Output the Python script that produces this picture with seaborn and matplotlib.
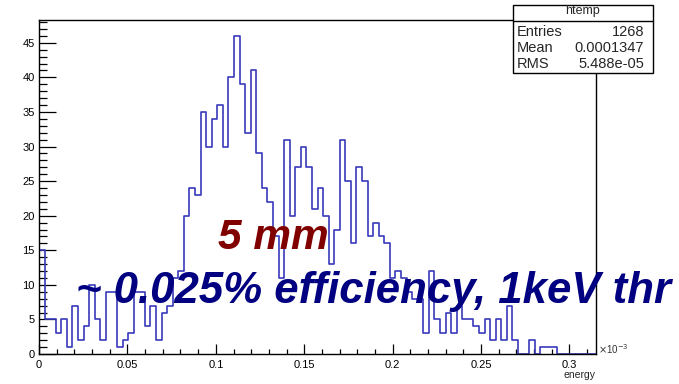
import numpy as np
import pandas as pd
import matplotlib
matplotlib.use('Agg')
import matplotlib.pyplot as plt
import seaborn as sns
from matplotlib.patches import Rectangle
from matplotlib.ticker import MultipleLocator

# bin contents of htemp (100 bins, energy in units of 1e-3)
counts = [15, 5, 5, 3, 5, 1, 7, 2, 4, 10,
          5, 2, 9, 9, 1, 2, 3, 9, 9, 4,
          7, 2, 6, 7, 11, 12, 20, 24, 23, 35,
          30, 34, 36, 30, 40, 46, 39, 32, 41, 29,
          24, 22, 17, 11, 31, 20, 27, 30, 27, 21,
          24, 20, 13, 18, 31, 25, 16, 27, 25, 17,
          19, 17, 16, 11, 12, 11, 9, 8, 8, 3,
          12, 5, 3, 6, 3, 7, 5, 5, 4, 3,
          5, 2, 5, 2, 7, 2, 0, 0, 2, 0,
          1, 1, 1, 0, 0, 0, 0, 0, 0, 0]
x_min, x_max = 0.0, 0.315
x_ticks = [0, 0.05, 0.1, 0.15, 0.2, 0.25, 0.3]
x_ticklabels = ['0', '0.05', '0.1', '0.15', '0.2', '0.25', '0.3']
y_ticks = [0, 5, 10, 15, 20, 25, 30, 35, 40, 45]

stats_title = 'htemp'
stats_rows = [('Entries', '1268'), ('Mean', '0.0001347'), ('RMS', '5.488e-05')]

edges = np.linspace(x_min, x_max, len(counts) + 1)
centers = 0.5 * (edges[:-1] + edges[1:])
df = pd.DataFrame({'energy': centers, 'n': counts})

sns.set_style('white')
plt.rcParams['font.family'] = ['Liberation Sans', 'DejaVu Sans']

fig = plt.figure(figsize=(6.79, 3.84), dpi=100)
ax = fig.add_axes([39 / 679, 1 - 354 / 384, (596 - 39) / 679, (354 - 20) / 384])

sns.histplot(data=df, x='energy', weights='n', bins=edges.tolist(), element='step',
             fill=False, color='#3a3abb', linewidth=1.2, ax=ax)

ax.set_xlim(x_min, x_max)
ax.set_ylim(0, max(counts) * 1.05)
ax.set_xticks(x_ticks)
ax.set_xticklabels(x_ticklabels)
ax.set_yticks(y_ticks)
ax.xaxis.set_minor_locator(MultipleLocator(0.01))
ax.yaxis.set_minor_locator(MultipleLocator(1))
ax.tick_params(axis='both', which='both', direction='in', top=False, right=False,
               bottom=True, left=True, labelsize=8, width=0.9, colors='black')
ax.tick_params(axis='y', which='major', length=12.2, pad=3)
ax.tick_params(axis='y', which='minor', length=6.1)
ax.tick_params(axis='x', which='major', length=7.2, pad=4)
ax.tick_params(axis='x', which='minor', length=3.6)
for s in ax.spines.values():
    s.set_color('black')
    s.set_linewidth(1.0)
ax.set_xlabel('')
ax.set_ylabel('')

fig.text(598 / 679, 1 - 349 / 384, r'$\times$10$^{-3}$', fontsize=7, color='#333333',
         ha='left', va='center')
fig.text(596 / 679, 1 - 375 / 384, 'energy', fontsize=7.5, ha='right', va='center')

# stats box
bx0, bx1, by0, by1 = 513, 653, 5, 73
fig.add_artist(Rectangle((bx0 / 679, 1 - by1 / 384), (bx1 - bx0) / 679, (by1 - by0) / 384,
                         transform=fig.transFigure, facecolor='white', edgecolor='black',
                         linewidth=1.0, zorder=5))
fig.add_artist(plt.Line2D([bx0 / 679, bx1 / 679], [1 - 20.5 / 384, 1 - 20.5 / 384],
                          transform=fig.transFigure, color='black', linewidth=1.0, zorder=6))
fig.text((bx0 + bx1) / 2 / 679, 1 - 11 / 384, stats_title, fontsize=9, ha='center',
         va='center', zorder=7)
for i, (k, v) in enumerate(stats_rows):
    yy = 1 - (32 + 16 * i) / 384
    fig.text((bx0 + 4) / 679, yy, k, fontsize=10.5, ha='left', va='center', zorder=7)
    fig.text((bx1 - 9) / 679, yy, v, fontsize=10.5, ha='right', va='center', zorder=7)

fig.text(273 / 679, 1 - 238 / 384, '5 mm', fontsize=30.5, color='#800000',
         fontweight='bold', fontstyle='italic', ha='center', va='center')
fig.text(373 / 679, 1 - 292 / 384, '~ 0.025% efficiency, 1keV thr', fontsize=31.5,
         color='#000080', fontweight='bold', fontstyle='italic', ha='center', va='center')

fig.savefig('out.png', dpi=100)
